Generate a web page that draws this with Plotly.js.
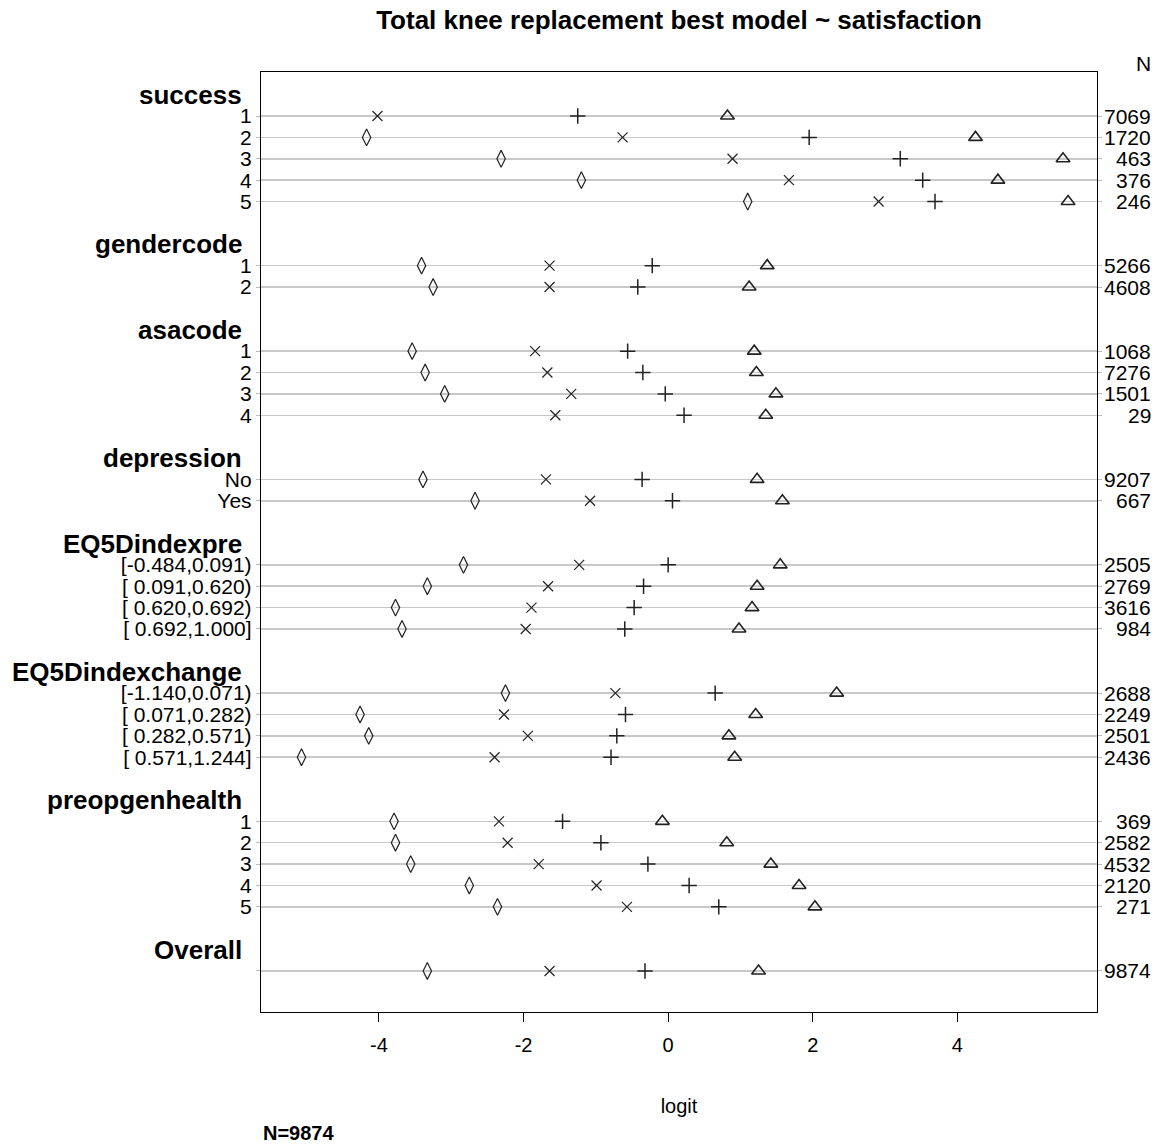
<!DOCTYPE html>
<html>
<head>
<meta charset="utf-8">
<script src="https://cdn.plot.ly/plotly-3.0.1.min.js"></script>
<style>html,body{margin:0;padding:0;background:#fff;}#chart{width:1161px;height:1146px;}</style>
</head>
<body>
<div id="chart"></div>
<script>
// ---- data ----
const groupNames = ['success','gendercode','asacode','depression','EQ5Dindexpre','EQ5Dindexchange','preopgenhealth','Overall'];
const groupLevels = [
  ['1','2','3','4','5'],
  ['1','2'],
  ['1','2','3','4'],
  ['No','Yes'],
  ['[-0.484,0.091)','[ 0.091,0.620)','[ 0.620,0.692)','[ 0.692,1.000]'],
  ['[-1.140,0.071)','[ 0.071,0.282)','[ 0.282,0.571)','[ 0.571,1.244]'],
  ['1','2','3','4','5'],
  ['']
];
const nValues = [7069,1720,463,376,246, 5266,4608, 1068,7276,1501,29, 9207,667,
  2505,2769,3616,984, 2688,2249,2501,2436, 369,2582,4532,2120,271, 9874];
const diamondVals = [null,-4.17,-2.31,-1.20,1.10, -3.41,-3.25, -3.54,-3.36,-3.09,null, -3.39,-2.67,
  -2.83,-3.33,-3.77,-3.68, -2.25,-4.26,-4.14,-5.07, -3.79,-3.77,-3.56,-2.75,-2.36, -3.33];
const xVals = [-4.02,-0.63,0.89,1.67,2.91, -1.64,-1.64, -1.84,-1.67,-1.34,-1.56, -1.69,-1.08,
  -1.23,-1.66,-1.89,-1.97, -0.73,-2.27,-1.94,-2.40, -2.34,-2.22,-1.79,-0.99,-0.57, -1.64];
const plusVals = [-1.25,1.95,3.21,3.52,3.69, -0.22,-0.42, -0.56,-0.35,-0.04,0.22, -0.36,0.06,
  0.00,-0.34,-0.47,-0.60, 0.65,-0.59,-0.71,-0.79, -1.46,-0.93,-0.28,0.29,0.70, -0.32];
const triVals = [0.82,4.25,5.46,4.56,5.53, 1.37,1.12, 1.19,1.22,1.49,1.35, 1.23,1.58,
  1.55,1.23,1.16,0.98, 2.33,1.21,0.84,0.92, -0.08,0.81,1.42,1.81,2.03, 1.25];
const xTicks = [-4,-2,0,2,4];

// ---- build row positions ----
const rowPos = [], rowText = [], headerPos = [];
let pos = -1;
groupNames.forEach((g, gi) => {
  headerPos.push(pos);
  groupLevels[gi].forEach(l => { pos += 1; rowPos.push(pos); rowText.push(l); });
  pos += 2;
});

const FONT = 'Liberation Sans, Arial, sans-serif';
function tr(vals, symbol, size, lw) {
  return {type:'scatter', mode:'markers', x: vals, y: rowPos, cliponaxis:false, hoverinfo:'skip',
    marker:{symbol:symbol, size:size, color:'#222', line:{color:'#222', width:lw}}, showlegend:false};
}
const traces = [
  tr(diamondVals,'diamond-tall-open',12,1.2),
  tr(xVals,'x-thin-open',10,1.2),
  tr(plusVals,'cross-thin-open',11,1.5),
  tr(triVals,'triangle-up-open',12,1.6)
];

const annotations = [];
groupNames.forEach((g, gi) => {
  annotations.push({xref:'paper', yref:'y', x:0, y:headerPos[gi], xanchor:'right', yanchor:'middle',
    xshift:-17, yshift:0, showarrow:false, text:'<b>'+g+'</b>', font:{family:FONT, size:26, color:'#000'}});
});
rowPos.forEach((p, i) => {
  annotations.push({xref:'paper', yref:'y', x:1, y:p, xanchor:'right', yanchor:'middle',
    xshift:56, showarrow:false, text:String(nValues[i]), font:{family:FONT, size:21, color:'#000'}});
});
annotations.push({xref:'paper', yref:'paper', x:1, y:1, xanchor:'right', yanchor:'middle', xshift:56, yshift:9,
  showarrow:false, text:'N', font:{family:FONT, size:21, color:'#000'}});
annotations.push({xref:'paper', yref:'paper', x:0, y:0, xanchor:'left', yanchor:'middle', yshift:-121,
  showarrow:false, text:'<b>N=9874</b>', font:{family:FONT, size:20, color:'#000'}});

const layout = {
  width:1161, height:1146,
  margin:{l:261, r:64, t:72, b:134},
  paper_bgcolor:'#fff', plot_bgcolor:'#fff',
  title:{text:'<b>Total knee replacement best model ~ satisfaction</b>', x:0.5, xref:'paper', xanchor:'center',
    y:1-20/1146, yref:'container', yanchor:'middle', font:{family:FONT, size:26, color:'#000'}},
  xaxis:{range:[-5.63,5.93], tickvals:xTicks, ticktext:xTicks.map(String), ticks:'outside', ticklen:9, tickwidth:1,
    tickcolor:'#000', showgrid:false, zeroline:false, showline:true, linecolor:'#000', linewidth:1.2, mirror:true,
    ticklabelstandoff:6,
    tickfont:{family:FONT, size:20, color:'#000'},
    title:{text:'logit', font:{family:FONT, size:20, color:'#000'}, standoff:43}},
  yaxis:{range:[41.92,-2.06], tickvals:rowPos, ticktext:rowText, ticks:'outside', ticklen:4, tickcolor:'#bbb',
    showgrid:true, gridcolor:'#c8c8c8', gridwidth:1.5, zeroline:false, showline:true, linecolor:'#000', linewidth:1.2,
    mirror:'ticks', tickfont:{family:FONT, size:21, color:'#000'}},
  annotations: annotations,
  showlegend:false
};
Plotly.newPlot('chart', traces, layout, {displayModeBar:false, staticPlot:true});
</script>
</body>
</html>
